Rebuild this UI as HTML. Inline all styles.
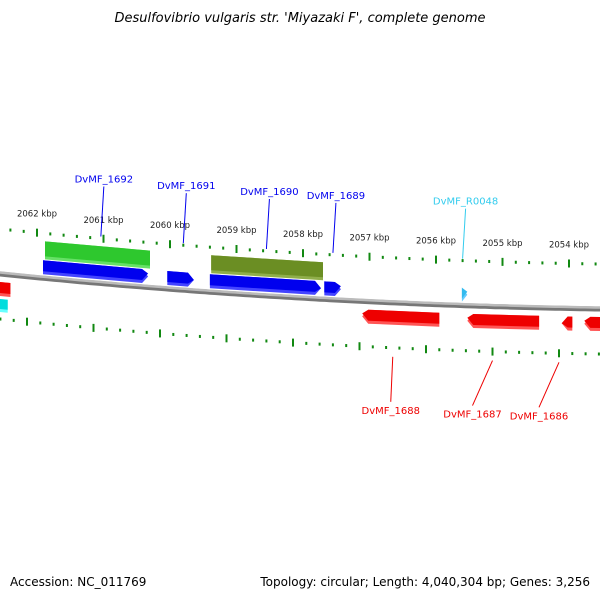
<!DOCTYPE html>
<html><head><meta charset="utf-8"><style>
body{margin:0;background:#fff}
svg{display:block;font-family:"DejaVu Sans","Liberation Sans",sans-serif}
</style></head><body>
<svg id="c" width="600" height="600" viewBox="0 0 600 600">
<text x="300" y="22" text-anchor="middle" font-size="13" font-style="italic" fill="#000">Desulfovibrio vulgaris str. 'Miyazaki F', complete genome</text>
<text x="10" y="586" font-size="12" fill="#000">Accession: NC_011769</text>
<text x="590" y="586" text-anchor="end" font-size="12" fill="#000">Topology: circular; Length: 4,040,304 bp; Genes: 3,256</text>
<g id="layer"></g>
</svg>
<script>
const majorKbp=[2063,2062,2061,2060,2059,2058,2057,2056,2055,2054,2053];
const tickLabels=["2062 kbp","2061 kbp","2060 kbp","2059 kbp","2058 kbp","2057 kbp","2056 kbp","2055 kbp","2054 kbp"];
const labelKbp=[2062,2061,2060,2059,2058,2057,2056,2055,2054];
const geneStart=[2061.88,2061.91,2060.04,2059.40,2057.68,2059.38,2055.61,2057.11,2055.53,2054.11,2053.77,2062.56,2062.56];
const geneEnd  =[2060.30,2060.33,2059.64,2057.73,2057.43,2057.70,2055.53,2055.95,2054.45,2053.95,2053.45,2062.40,2062.44];
const geneStrand=[0,1,1,1,1,0,1,-1,-1,-1,-1,0,0];
const geneRow=[0,1,1,1,1,0,1,2,2,2,2,2,3];
const geneColor=["#2ec82e","#0000ee","#0000ee","#0000ee","#0000ee","#6b8e23","#33bbee","#ee0000","#ee0000","#ee0000","#ee0000","#ee0000","#00dddd"];
const geneLight=["#66e066","#4444ff","#4444ff","#4444ff","#4444ff","#8fae4a","#66ccff","#ff5555","#ff5555","#ff5555","#ff5555","#ff5555","#66ffff"];
const geneNames=["DvMF_1692","DvMF_1691","DvMF_1690","DvMF_1689","DvMF_R0048","DvMF_1688","DvMF_1687","DvMF_1686"];
const nameKbp=[2061.04,2059.8,2058.55,2057.55,2055.6,2056.5,2055.0,2054.0];
const nameSide=[-1,-1,-1,-1,-1,1,1,1];
const nameColor=["#0000ee","#0000ee","#0000ee","#0000ee","#33ccee","#ee0000","#ee0000","#ee0000"];

const rowOff=[[-36,-18],[-17,-3],[9,23],[26,39]];
const NS="http://www.w3.org/2000/svg";
const L=document.getElementById('layer');
function X(k){return 37+(2062-k)*66.5;}
function B(x){return 273+0.1017*x-7.22e-5*x*x;}
function mk(t,a,name){const e=document.createElementNS(NS,t);for(const k in a)e.setAttribute(k,a[k]);


L.appendChild(e);return e;}
let d="";for(let x=-5;x<=605;x+=5){d+=(x==-5?"M":"L")+x+","+(B(x)+1).toFixed(1);}
mk('path',{d:d,stroke:"#777",'stroke-width':5,fill:"none"},'backbone-shadow');
let d2="";for(let x=-5;x<=605;x+=5){d2+=(x==-5?"M":"L")+x+","+(B(x)-0.5).toFixed(1);}
mk('path',{d:d2,stroke:"#bbb",'stroke-width':2.5,fill:"none"},'backbone');
function ticks(off,shift,nm){
 for(let i=0;i<majorKbp.length-1;i++){
  for(let j=0;j<5;j++){
   const k=majorKbp[i]-j*0.2;const x=X(k)+shift;if(x<-2||x>602)continue;
   const y=B(x)+off;
   if(j==0)mk('rect',{x:x-1,y:y-4,width:2,height:8,fill:"#118811"},nm+'-major-tick');
   else mk('rect',{x:x-1,y:y-1.5,width:2,height:3,fill:"#118811"},nm+'-minor-tick');
  }}
}
ticks(-44,0,'outer');ticks(46,-10,'inner');
labelKbp.forEach((k,i)=>{const x=X(k);const t=mk('text',{x:x,y:B(x)-60,'text-anchor':'middle','font-size':8.5,fill:"#222"},'tick-label');t.textContent=tickLabels[i];});
for(let i=0;i<geneStart.length;i++){
 const x1=X(geneStart[i]),x2=X(geneEnd[i]);const [o1,o2]=rowOff[geneRow[i]];
 const s=geneStrand[i];const a=6;
 let pts;
 const P=(x,o)=>x.toFixed(1)+","+(B(x)+o).toFixed(1);
 const m=(o1+o2)/2;
 if(i==6){pts=[P(x1,o1),P(x2,m),P(x1,o2)];}
 else if(s==1){pts=[P(x1,o1),P(x2-a,o1),P(x2,m),P(x2-a,o2),P(x1,o2)];}
 else if(s==-1){pts=[P(x1+a,o1),P(x2,o1),P(x2,o2),P(x1+a,o2),P(x1,m)];}
 else pts=[P(x1,o1),P(x2,o1),P(x2,o2),P(x1,o2)];
 mk('polygon',{points:pts.join(" "),fill:geneLight[i]},'gene-shadow');
 const inner=pts.map(p=>{const [px,py]=p.split(",").map(Number);return px+","+(py-(py>B(px)+m?3:0));});
 mk('polygon',{points:inner.join(" "),fill:geneColor[i]},'gene-feature');
}
geneNames.forEach((n,i)=>{const x=X(nameKbp[i]);const side=nameSide[i];
 let ly1,ly2,tx,ty;
 if(side<0){ly2=B(x)-46;ly1=ly2-50;tx=x+3;ty=ly1-4;
  mk('line',{x1:x+3,y1:ly1,x2:x,y2:ly2,stroke:nameColor[i],'stroke-width':1},'label-leader');}
 else{const xs=x-10;ly1=B(xs)+55;ly2=ly1+45;tx=i==5?xs-2:xs-20;ty=ly2+12;
  mk('line',{x1:xs,y1:ly1,x2:tx,y2:ly2,stroke:nameColor[i],'stroke-width':1},'label-leader');}
 const t=mk('text',{x:tx,y:ty,'text-anchor':'middle','font-size':10,fill:nameColor[i]},'gene-label');t.textContent=n;});
</script>
</body></html>
